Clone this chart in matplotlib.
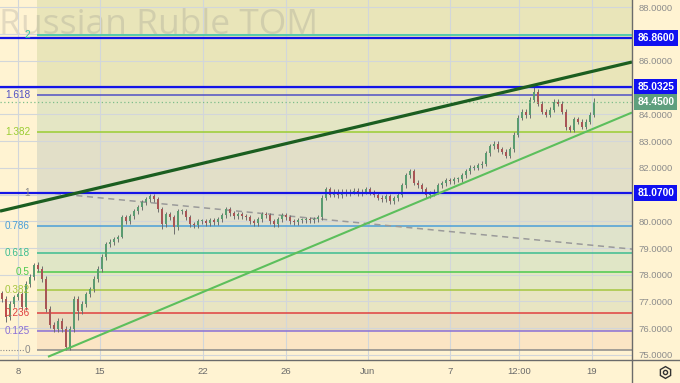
import matplotlib
matplotlib.use('Agg')
import matplotlib.pyplot as plt
import matplotlib.transforms as mtransforms
from matplotlib.lines import Line2D

plt.rcParams['font.family'] = ['Liberation Sans', 'DejaVu Sans']

# ---------------- data ----------------
closes = [77.09, 76.41, 76.90, 77.16, 77.27, 76.79, 77.65, 77.91, 78.36, 78.21,
          77.84, 76.72, 76.12, 75.97, 76.27, 75.97, 75.30, 75.97, 77.09, 76.64,
          76.90, 77.27, 77.46, 77.84, 78.21, 78.66, 79.14, 79.22, 79.33, 79.40,
          80.15, 80.00, 80.18, 80.37, 80.52, 80.71, 80.82, 80.93, 80.82, 80.45,
          79.89, 80.26, 80.15, 79.77, 80.37, 80.37, 80.15, 79.89, 79.85, 80.00,
          80.00, 79.92, 80.04, 79.96, 80.07, 80.22, 80.45, 80.30, 80.18, 80.26,
          80.18, 80.15, 80.00, 79.92, 80.07, 80.26, 80.22, 80.00, 79.89, 80.07,
          80.22, 80.15, 80.00, 79.96, 80.04, 80.04, 80.07, 80.04, 80.07, 80.15,
          80.89, 81.19, 81.00, 81.11, 80.97, 81.11, 81.04, 81.11, 81.15, 81.04,
          81.11, 81.19, 81.07, 81.00, 80.89, 80.82, 80.93, 80.75, 80.86, 81.00,
          81.34, 81.72, 81.87, 81.45, 81.34, 81.19, 80.97, 81.04, 81.11, 81.34,
          81.42, 81.53, 81.49, 81.57, 81.57, 81.72, 81.87, 82.01, 82.01, 82.09,
          82.16, 82.54, 82.80, 82.91, 82.69, 82.61, 82.46, 82.69, 83.24, 83.88,
          84.10, 83.96, 84.55, 84.85, 84.40, 84.10, 83.99, 84.18, 84.48, 84.40,
          84.10, 83.51, 83.43, 83.81, 83.73, 83.54, 83.73, 83.99, 84.45]
first_open = 77.30
special_highs = {133: 85.03, 148: 84.62, 102: 81.95, 38: 81.02, 8: 78.45}
special_lows = {16: 75.18, 30: 79.38, 40: 79.72, 43: 79.52, 19: 76.30, 1: 76.25}

tick_pos = [4, 24.5, 50.25, 71, 91.5, 112, 129.25, 147.5]
tick_labels = ['8', '15', '22', '26', 'Jun', '7', '12:00', '19']
price_ticks = list(range(75, 89))

fib_levels = [0, 0.125, 0.236, 0.382, 0.5, 0.618, 0.786, 1, 1.382, 1.618, 2]
fib_labels = ['0', '0.125', '0.236', '0.382', '0.5', '0.618', '0.786', '1', '1.382', '1.618', '2']
fib_colors = ['#8a8a8a', '#8a6fd6', '#e04040', '#a5c640', '#4cc94c', '#3dbd90',
              '#4a9fd8', '#8a8a8a', '#9acd32', '#5050c4', '#30c6a2']
fib_fills = ['#fbe5c4', '#e9dcc0', '#e8e5c2', '#e3e7c3', '#e0e6c6', '#dfe3cb',
             '#e0e0cc', '#e2dfc8', '#e4e6c4', '#e9e5b9', '#e9e5b9']
fib_price0 = 75.17
fib_price1 = 81.07
fib_start = 8.75

key_levels = [86.86, 85.0325, 81.07]
last_price = 84.45

dark_trend_x = [-0.5, 157.5]
dark_trend_y = [80.38, 85.96]
green_trend_x = [11.5, 157.5]
green_trend_y = [74.93, 84.07]
gray_trend_x = [13.25, 157.5]
gray_trend_y = [81.04, 78.96]

# ---------------- figure ----------------
W, H = 680, 383
bg = '#fff3d2'
fig = plt.figure(figsize=(W / 100, H / 100), dpi=100, facecolor=bg)
ax = fig.add_axes([0, (H - 360) / H, 632 / W, 360 / H])
ax.set_facecolor(bg)
xmin, xmax = -0.5, 157.5
ax.set_xlim(xmin, xmax)
ax.set_ylim(74.81, 88.28)
for s in ax.spines.values():
    s.set_visible(False)

# fib zones
rng = fib_price1 - fib_price0
fib_prices = [fib_price0 + l * rng for l in fib_levels]
bounds = fib_prices + [88.28]
for i in range(len(fib_prices)):
    ax.fill_between([fib_start, xmax], bounds[i], bounds[i + 1], color=fib_fills[i], lw=0, zorder=0.3)

ax.grid(True, color='#d2d6da', lw=0.8, zorder=1.0)
ax.set_axisbelow('line')

for p, lab, c in zip(fib_prices, fib_labels, fib_colors):
    ax.plot([fib_start, xmax], [p, p], color=c, lw=1.1, zorder=1.8, solid_capstyle='butt')
    ax.text(7.0, p, lab, ha='right', va='center', color=c, fontsize=7.2, zorder=3)
ax.plot([xmin, 5.6], [fib_prices[0]] * 2, color='#8a8a8a', lw=0.8, ls=(0, (1, 1.5)), zorder=1.8)

# watermark
ax.text(318 / 632, 1 - 34 / 360, 'Russian Ruble TOM', transform=ax.transAxes, ha='right',
        va='baseline', fontsize=25.5, family='Open Sans', color='#808080', alpha=0.22, zorder=1.2)

# trend lines
ax.plot(gray_trend_x, gray_trend_y, color='#9a9a9a', lw=1.1, ls=(0, (4, 3)), zorder=2.0)
ax.plot(green_trend_x, green_trend_y, color='#5cbf5c', lw=1.5, zorder=2.6, solid_capstyle='butt')
ax.plot(dark_trend_x, dark_trend_y, color='#1b5e20', lw=2.3, zorder=2.6, solid_capstyle='butt')

# candles
opens = [first_open] + closes[:-1]
for i, (o, c) in enumerate(zip(opens, closes)):
    up = c >= o
    col = '#5a9b70' if up else '#a85555'
    hi = special_highs.get(i, max(o, c) + 0.1)
    lo = special_lows.get(i, min(o, c) - 0.1)
    ax.vlines(i, lo, hi, color='#6e6e6e', lw=0.7, zorder=2.2)
    h = max(abs(c - o), 0.04)
    ax.bar(i, h, bottom=min(o, c), width=0.65, color=col, lw=0, zorder=2.3)

# key horizontal levels
for lvl in key_levels:
    ax.axhline(lvl, color='#1414e6', lw=1.6, zorder=2.4)
ax.axhline(last_price, color='#7dbe8a', lw=0.9, ls=(0, (1, 2)), zorder=2.4)

# axes ticks
ax.yaxis.tick_right()
ax.set_yticks(price_ticks)
ax.set_yticklabels([f'{v:.4f}' for v in price_ticks])
ax.tick_params(axis='y', length=0, pad=4.5, labelsize=6.8, labelcolor='#8c8c8c')
ax.set_xticks(tick_pos)
ax.set_xticklabels(tick_labels)
ax.tick_params(axis='x', length=0, pad=5, labelsize=6.8, labelcolor='#6a6a6a')

trans = mtransforms.blended_transform_factory(ax.transAxes, ax.transData)
for lvl in key_levels:
    ax.text(1.0085, lvl, f'{lvl:.4f}', transform=trans, ha='left', va='center', color='white',
            fontsize=7.4, fontweight='bold', clip_on=False, zorder=6,
            bbox=dict(boxstyle='square,pad=0.3', fc='#1010f0', ec='none'))
ax.text(1.0085, last_price, f'{last_price:.4f}', transform=trans, ha='left', va='center',
        color='white', fontsize=7.4, fontweight='bold', clip_on=False, zorder=6,
        bbox=dict(boxstyle='square,pad=0.3', fc='#5f9f7e', ec='none'))

# separators and settings icon
fig.add_artist(Line2D([632 / W, 632 / W], [0, 1], color='#6b6b6b', lw=1.0, transform=fig.transFigure))
fig.add_artist(Line2D([0, 1], [(H - 360) / H] * 2, color='#6b6b6b', lw=1.0, transform=fig.transFigure))
fig.add_artist(Line2D([665 / W], [1 - 372 / H], marker='h', ms=8.5, mfc='none', mec='#333333',
                      mew=1.0, transform=fig.transFigure))
fig.add_artist(Line2D([665 / W], [1 - 372 / H], marker='o', ms=3, mfc='none', mec='#333333',
                      mew=1.0, transform=fig.transFigure))

fig.savefig('out.png', dpi=100, facecolor=bg)
